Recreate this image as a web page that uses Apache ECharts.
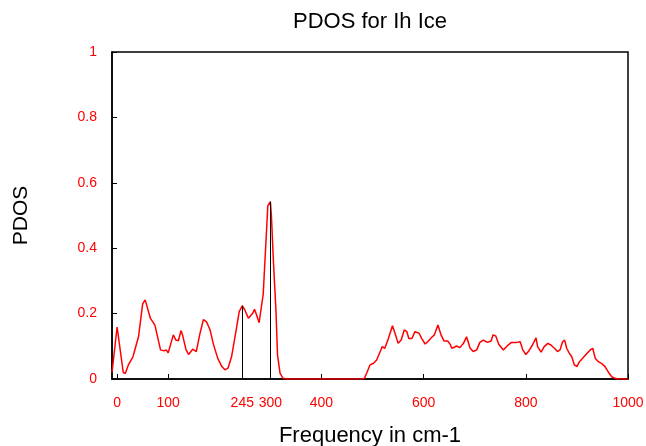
<!DOCTYPE html>
<html>
<head>
<meta charset="utf-8">
<title>PDOS for Ih Ice</title>
<script src="https://cdn.jsdelivr.net/npm/echarts@6/dist/echarts.min.js"></script>
<style>
  html, body { margin: 0; padding: 0; background: #fff; }
  #chart { width: 646px; height: 446px; }
</style>
</head>
<body>
<div id="chart"></div>
<script>
// Phonon frequency grid (cm-1) and projected density of states
const frequency = [
  -10, 0, 12, 16, 22, 31, 42, 50, 55, 65, 74, 85, 92, 96, 100, 110, 115, 120, 125, 128,
  135, 140, 148, 155, 162, 169, 175, 182, 188, 197, 205, 211, 217, 224, 232, 239, 245, 250,
  257, 260, 265, 269, 273, 278, 286, 295, 300, 302, 306, 311, 314, 319, 325, 330, 480, 484,
  489, 495, 502, 508, 515, 519, 524, 531, 539, 544, 550, 556, 562, 567, 571, 577, 583, 591,
  596, 603, 608, 615, 621, 628, 634, 640, 647, 652, 655, 660, 664, 671, 678, 684, 691, 697,
  704, 710, 717, 725, 732, 736, 741, 747, 756, 764, 772, 782, 789, 794, 800, 805, 813, 820,
  823, 830, 836, 843, 849, 856, 862, 867, 872, 876, 880, 885, 890, 895, 900, 905, 912, 920,
  926, 931, 936, 942, 948, 955, 962, 968, 975, 980, 1000
];
const pdos = [
  0.02, 0.159, 0.02, 0.017, 0.043, 0.068, 0.13, 0.23, 0.242, 0.186, 0.165, 0.089, 0.086, 0.089, 0.08, 0.135, 0.119, 0.117, 0.148, 0.135,
  0.089, 0.075, 0.091, 0.084, 0.138, 0.182, 0.175, 0.15, 0.109, 0.063, 0.038, 0.028, 0.033, 0.068, 0.14, 0.206, 0.224, 0.211,
  0.186, 0.182, 0.2, 0.213, 0.196, 0.172, 0.26, 0.53, 0.542, 0.5, 0.359, 0.206, 0.073, 0.017, 0.002, 0, 0, 0.002,
  0.02, 0.043, 0.048, 0.058, 0.084, 0.099, 0.094, 0.124, 0.163, 0.14, 0.109, 0.119, 0.15, 0.145, 0.124, 0.124, 0.145, 0.14,
  0.124, 0.107, 0.114, 0.126, 0.135, 0.165, 0.135, 0.116, 0.116, 0.106, 0.094, 0.097, 0.101, 0.096, 0.109, 0.129, 0.094, 0.084,
  0.089, 0.112, 0.119, 0.112, 0.116, 0.135, 0.132, 0.106, 0.089, 0.102, 0.112, 0.112, 0.114, 0.089, 0.075, 0.084, 0.104, 0.126,
  0.099, 0.082, 0.099, 0.109, 0.104, 0.094, 0.084, 0.089, 0.114, 0.119, 0.094, 0.079, 0.068, 0.043, 0.038, 0.053, 0.065, 0.079,
  0.089, 0.094, 0.063, 0.053, 0.048, 0.038, 0.02, 0.007, 0.002, 0, 0
];

// Frequencies highlighted with drop lines, and axis labelling
const markedFrequencies = [245, 300];
const xTickValues = [0, 100, 400, 600, 800, 1000];
const xLabelValues = [0, 100, 245, 300, 400, 600, 800, 1000];

const FONT = '"Liberation Sans", Arial, sans-serif';
const RED = '#ff0000';

const points = frequency.map((f, i) => [f, pdos[i]]);

function pdosAt(f) {
  const i = frequency.indexOf(f);
  return i >= 0 ? pdos[i] : 0;
}

const dropLines = markedFrequencies.map(f => [
  { coord: [f, 0] },
  { coord: [f, pdosAt(f)] }
]);

const chart = echarts.init(document.getElementById('chart'), null, { renderer: 'canvas' });

chart.setOption({
  animation: false,
  backgroundColor: '#ffffff',
  title: {
    text: 'PDOS for Ih Ice',
    left: 365,
    textAlign: 'center',
    top: 6,
    textStyle: { fontFamily: FONT, fontSize: 22, fontWeight: 'normal', color: '#000' }
  },
  grid: {
    left: 112, right: 18, top: 52, bottom: 67,
    outerBoundsMode: 'none',
    containLabel: false,
    show: true,
    borderColor: '#000',
    borderWidth: 1.5,
    backgroundColor: 'transparent'
  },
  xAxis: {
    type: 'value',
    min: -10,
    max: 1000,
    name: 'Frequency in cm-1',
    nameLocation: 'middle',
    nameGap: 46,
    nameTextStyle: { fontFamily: FONT, fontSize: 22, color: '#000' },
    axisLine: { onZero: false, lineStyle: { color: '#000', width: 1.5 } },
    axisTick: { inside: true, length: 5, customValues: xTickValues, lineStyle: { color: '#000' } },
    axisLabel: {
      customValues: xLabelValues,
      formatter: v => String(v),
      margin: 17,
      color: RED,
      fontFamily: FONT,
      fontSize: 14
    },
    splitLine: { show: false }
  },
  yAxis: {
    type: 'value',
    min: 0,
    max: 1,
    interval: 0.2,
    name: 'PDOS',
    nameLocation: 'middle',
    nameGap: 80,
    nameRotate: 90,
    nameTextStyle: { fontFamily: FONT, fontSize: 21, color: '#000' },
    axisLine: { show: true, onZero: false, lineStyle: { color: '#000', width: 1.5 } },
    axisTick: { show: true, inside: true, length: 5, lineStyle: { color: '#000' } },
    axisLabel: { margin: 15, color: RED, fontFamily: FONT, fontSize: 14 },
    splitLine: { show: false }
  },
  series: [{
    type: 'line',
    data: points,
    showSymbol: false,
    smooth: false,
    lineStyle: { color: RED, width: 1.5 },
    itemStyle: { color: RED },
    markLine: {
      silent: true,
      symbol: 'none',
      label: { show: false },
      lineStyle: { color: '#000', width: 1, type: 'solid' },
      data: dropLines
    }
  }]
});
</script>
</body>
</html>
